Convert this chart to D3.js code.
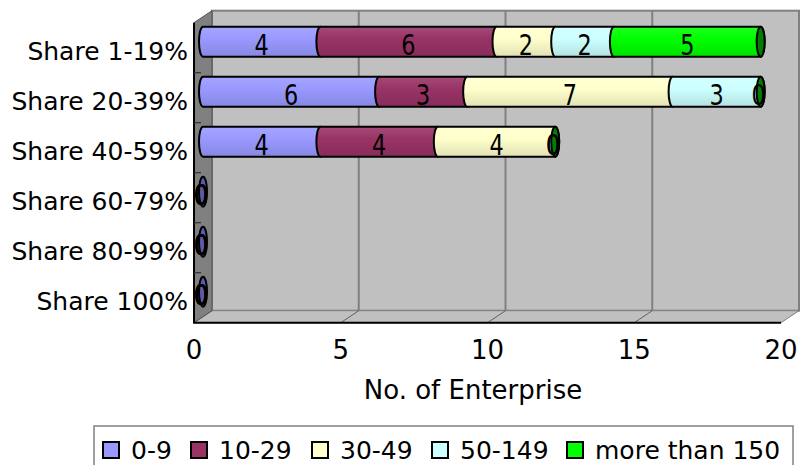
<!DOCTYPE html>
<html>
<head>
<meta charset="utf-8">
<script src="https://cdn.jsdelivr.net/npm/d3@7"></script>
<style>
  html, body { margin: 0; padding: 0; background: #fff; }
  svg { display: block; }
  text { font-family: "DejaVu Sans", "Noto Sans", sans-serif; fill: #000; }
</style>
</head>
<body>
<svg id="chart" width="800" height="465"></svg>
<script>
// Enterprises by share bracket, stacked by workforce size
const categories = ["Share 1-19%", "Share 20-39%", "Share 40-59%", "Share 60-79%", "Share 80-99%", "Share 100%"];
const seriesNames = ["0-9", "10-29", "30-49", "50-149", "more than 150"];
const size0to9 = [4, 6, 4, 0, 0, 0];
const size10to29 = [6, 3, 4, 0, 0, 0];
const size30to49 = [2, 7, 4, 0, 0, 0];
const size50to149 = [2, 3, 0, 0, 0, 0];
const sizeOver150 = [5, 0, 0, 0, 0, 0];
const xTicks = [0, 5, 10, 15, 20];
const seriesColors = ["#9999ff", "#993366", "#ffffcc", "#ccffff", "#00ff00"];
const capColors = ["#5a5ab0", "#6e2449", "#c8c890", "#90c8c8", "#008000"];
const axisTitle = "No. of Enterprise";

const seriesValues = [size0to9, size10to29, size30to49, size50to149, sizeOver150];

const svg = d3.select("#chart");
const defs = svg.append("defs");

// 3D box geometry: front plane and depth offset to the back wall
const front = { left: 194, top: 22.7, bottom: 322.7 };
const depth = { dx: 18, dy: -12 };
const mid = { dx: depth.dx / 2, dy: depth.dy / 2 };

const x = d3.scaleLinear().domain([0, 20]).range([194, 781]);
const y = d3.scaleBand().domain(categories).range([front.top, front.bottom])
  .paddingInner(0.4).paddingOuter(0.2);

const backLeft = x(0) + depth.dx, backRight = x(20) + depth.dx;
const backTop = front.top + depth.dy, backBottom = front.bottom + depth.dy;

// back wall
svg.append("rect")
  .attr("x", backLeft).attr("y", backTop)
  .attr("width", backRight - backLeft).attr("height", backBottom - backTop)
  .attr("fill", "#c0c0c0").attr("stroke", "#808080").attr("stroke-width", 2);

// floor
svg.append("path")
  .attr("d", `M${x(0)},${front.bottom} L${backLeft},${backBottom} L${backRight},${backBottom} L${x(20)},${front.bottom} Z`)
  .attr("fill", "#c0c0c0").attr("stroke", "#808080").attr("stroke-width", 1);

// gridlines on back wall and floor
const inner = xTicks.filter(t => t > 0 && t < 20);
svg.selectAll(".grid").data(inner).join("line")
  .attr("x1", d => x(d) + depth.dx).attr("x2", d => x(d) + depth.dx)
  .attr("y1", backTop).attr("y2", backBottom)
  .attr("stroke", "#808080").attr("stroke-width", 2);
svg.selectAll(".floorgrid").data(inner).join("line")
  .attr("x1", d => x(d) + depth.dx).attr("x2", d => x(d))
  .attr("y1", backBottom).attr("y2", front.bottom)
  .attr("stroke", "#606060").attr("stroke-width", 1);

// side wall
svg.append("path")
  .attr("d", `M${x(0)},${front.top} L${backLeft},${backTop} L${backLeft},${backBottom} L${x(0)},${front.bottom} Z`)
  .attr("fill", "#808080").attr("stroke", "#505050").attr("stroke-width", 1);
svg.append("line")
  .attr("x1", x(0)).attr("x2", x(0)).attr("y1", front.top).attr("y2", front.bottom)
  .attr("stroke", "#000").attr("stroke-width", 2);
svg.append("line")
  .attr("x1", x(0) - 1).attr("x2", x(20)).attr("y1", front.bottom).attr("y2", front.bottom)
  .attr("stroke", "#000").attr("stroke-width", 2);

// category separators on the side wall
const bounds = categories.slice(1).map(c => y(c) - y.step() * y.paddingInner() / 2);
svg.selectAll(".sep").data(bounds).join("line")
  .attr("x1", x(0)).attr("x2", x(0) + 7)
  .attr("y1", d => d).attr("y2", d => d)
  .attr("stroke", "#303030").attr("stroke-width", 1.2);

// gradients for cylinder bodies
seriesColors.forEach((c, i) => {
  const g = defs.append("linearGradient").attr("id", "grad" + i)
    .attr("x1", 0).attr("y1", 0).attr("x2", 0).attr("y2", 1);
  const base = d3.color(c);
  g.append("stop").attr("offset", "0%").attr("stop-color", d3.interpolateRgb(c, "#fff")(0.12));
  g.append("stop").attr("offset", "40%").attr("stop-color", c);
  g.append("stop").attr("offset", "100%").attr("stop-color", base.darker(0.35));
});

const rx = 4;
const barH = y.bandwidth();

const rows = categories.map((cat, r) => {
  let acc = 0;
  const segs = seriesValues.map((vals, s) => {
    const v = vals[r];
    const seg = { cat, s, v, a: acc, b: acc + v };
    acc += v;
    return seg;
  });
  return { cat, segs, total: acc };
});

const barLayer = svg.append("g");
rows.forEach(row => {
  const top = y(row.cat) + mid.dy;
  const bot = top + barH;
  const ry = barH / 2;
  const g = barLayer.append("g");
  g.selectAll("path.seg").data(row.segs.filter(d => d.v > 0)).join("path")
    .attr("class", "seg")
    .attr("d", d => {
      const xa = x(d.a) + mid.dx, xb = x(d.b) + mid.dx;
      return `M${xa},${top} L${xb},${top} A${rx},${ry} 0 0 1 ${xb},${bot} L${xa},${bot} A${rx},${ry} 0 0 1 ${xa},${top} Z`;
    })
    .attr("fill", d => `url(#grad${d.s})`)
    .attr("stroke", "#000").attr("stroke-width", 2);
  // end cap
  const capSeries = row.total > 0 ? seriesNames.length - 1 : 0;
  g.append("ellipse")
    .attr("cx", x(row.total) + mid.dx).attr("cy", top + ry)
    .attr("rx", rx).attr("ry", ry)
    .attr("fill", capColors[capSeries])
    .attr("stroke", "#000").attr("stroke-width", 2);
  // value labels
  g.selectAll("text").data(row.segs).join("text")
    .attr("transform", d => {
      const cx = d.v > 0 ? (x(d.a) + x(d.b)) / 2 + mid.dx : x(d.a) + mid.dx - 2;
      return `translate(${cx},${top + ry + 13}) scale(0.8,1)`;
    })
    .attr("text-anchor", "middle")
    .attr("font-size", 28)
    .text(d => d.v);
});

// category labels
svg.selectAll(".cat").data(categories).join("text")
  .attr("x", x(0) - 6)
  .attr("y", d => y(d) + barH / 2 + 12)
  .attr("text-anchor", "end")
  .attr("font-size", 25)
  .text(d => d);

// x tick labels
svg.selectAll(".tick").data(xTicks).join("text")
  .attr("x", d => x(d)).attr("y", 359)
  .attr("text-anchor", "middle")
  .attr("font-size", 26)
  .text(d => d);

svg.append("text")
  .attr("x", 473).attr("y", 399)
  .attr("text-anchor", "middle")
  .attr("font-size", 26)
  .text(axisTitle);

// legend
const legend = svg.append("g");
legend.append("rect")
  .attr("x", 94).attr("y", 426).attr("width", 699).attr("height", 60)
  .attr("fill", "#fff").attr("stroke", "#808080").attr("stroke-width", 1.5);
const legendX = [103, 191, 312, 432, 567];
seriesNames.forEach((name, i) => {
  legend.append("rect")
    .attr("x", legendX[i]).attr("y", 442).attr("width", 16).attr("height", 16)
    .attr("fill", seriesColors[i]).attr("stroke", "#000").attr("stroke-width", 2);
  legend.append("text")
    .attr("x", legendX[i] + 28).attr("y", 459)
    .attr("font-size", 25)
    .text(name);
});
</script>
</body>
</html>
